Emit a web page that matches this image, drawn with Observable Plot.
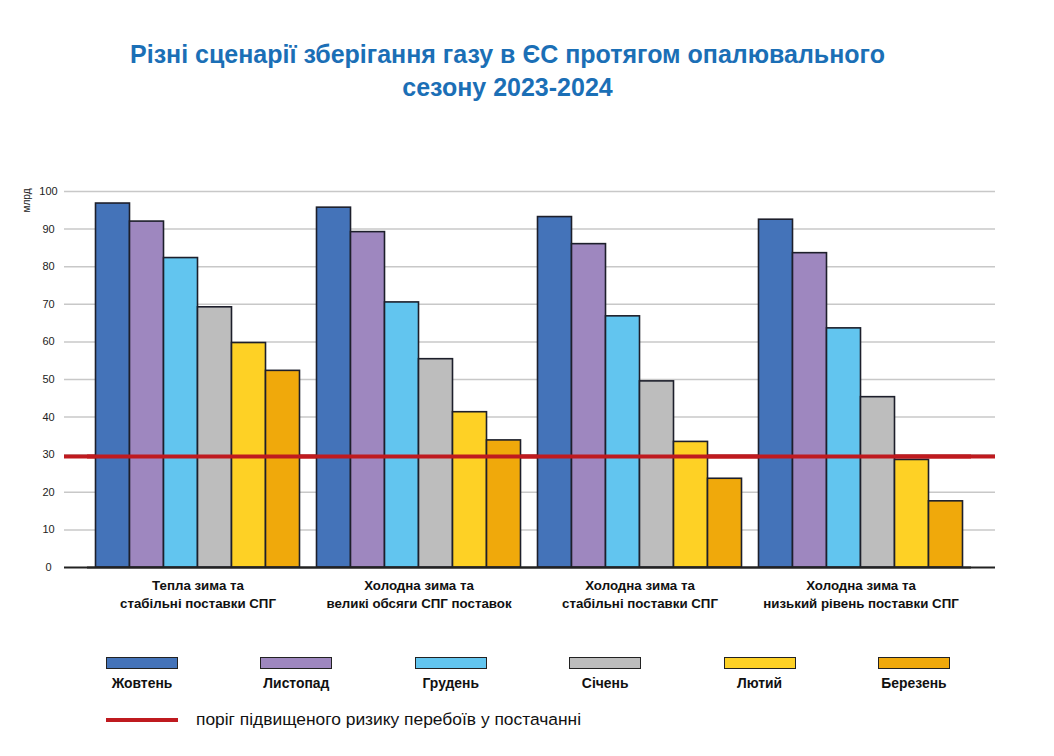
<!DOCTYPE html>
<html>
<head>
<meta charset="utf-8">
<script src="https://cdn.jsdelivr.net/npm/d3@7"></script>
<script src="https://cdn.jsdelivr.net/npm/@observablehq/plot@0.6"></script>
<style>
  html, body { margin: 0; padding: 0; background: #fff; }
  body { width: 1054px; height: 756px; position: relative; overflow: hidden; font-family: "Liberation Sans", Arial, sans-serif; }
  #title { position: absolute; left: 0; width: 1015px; top: 38px; text-align: center; color: #1b6fb6; font-weight: bold; font-size: 25px; line-height: 33px; }
  #chart { position: absolute; left: 0; top: 150px; width: 1054px; height: 480px; }
  #chart > svg { position: absolute; left: 0; top: 0; }
  #legend { position: absolute; left: 64.8px; top: 657px; display: flex; }
  .item { width: 154.4px; display: flex; flex-direction: column; align-items: center; }
  .sw { width: 70px; height: 10px; border: 1px solid #222; }
  .lab { margin-top: 6px; font-weight: bold; font-size: 13.9px; color: #111; }
  #thr { position: absolute; left: 106px; top: 709px; display: flex; align-items: center; }
  #thr .line { width: 72px; height: 4px; background: #bf1a1f; }
  #thr .txt { margin-left: 18px; font-size: 17.4px; color: #111; }
</style>
</head>
<body>
<div id="title">Різні сценарії зберігання газу в ЄС протягом опалювального<br>сезону 2023-2024</div>
<div id="chart"></div>
<div id="legend"></div>
<div id="thr"><div class="line"></div><div class="txt">поріг підвищеного ризику перебоїв у постачанні</div></div>
<script>
// ---- data ----
const scenarios = [
  "Тепла зима та\nстабільні поставки СПГ",
  "Холодна зима та\nвеликі обсяги СПГ поставок",
  "Холодна зима та\nстабільні поставки СПГ",
  "Холодна зима та\nнизький рівень поставки СПГ"
];
const months = ["Жовтень", "Листопад", "Грудень", "Січень", "Лютий", "Березень"];
const monthColors = ["#4473b9", "#9e87bf", "#62c5ef", "#bdbdbd", "#fed125", "#f0a90b"];
const warmStable   = [96.8, 92.0, 82.3, 69.2, 59.7, 52.3];
const coldHighLng  = [95.7, 89.2, 70.5, 55.4, 41.3, 33.8];
const coldStable   = [93.2, 86.0, 66.8, 49.5, 33.4, 23.6];
const coldLowLng   = [92.5, 83.6, 63.6, 45.3, 28.6, 17.6];
const seriesByScenario = [warmStable, coldHighLng, coldStable, coldLowLng];
const yTicks = [0, 10, 20, 30, 40, 50, 60, 70, 80, 90, 100];
const threshold = 29.5;
const yUnit = "млрд";

const rows = [];
scenarios.forEach((s, i) => months.forEach((m, j) => rows.push({scenario: s, month: m, value: seriesByScenario[i][j]})));

const H = 480, MT = 41, MB = 63;

// background: y axis, gridlines, baseline, threshold (full width)
const bg = Plot.plot({
  width: 1054, height: H,
  marginTop: MT, marginBottom: MB, marginLeft: 64, marginRight: 59,
  style: {fontFamily: "Liberation Sans, Arial, sans-serif", fontSize: "11px", color: "#222", background: "transparent"},
  y: {domain: [0, 100], ticks: yTicks, tickSize: 0, tickPadding: 16, label: null},
  x: {domain: [0, 1], axis: null},
  marks: [
    Plot.axisY({ticks: yTicks, tickSize: 0, tickPadding: 16, textAnchor: "middle", fontSize: 11, label: null}),
    Plot.ruleY(yTicks.filter(d => d > 0), {stroke: "#c8c8c8", strokeWidth: 1.5}),
    Plot.ruleY([0], {stroke: "#222", strokeWidth: 2}),
    Plot.ruleY([threshold], {stroke: "#bf1a1f", strokeWidth: 4}),
    Plot.text([yUnit], {frameAnchor: "top-left", rotate: -90, dx: -42, dy: -3, textAnchor: "end", fontSize: 10, fill: "#222"})
  ]
});

// foreground: grouped bars and threshold line over bars
const fg = Plot.plot({
  width: 1054, height: H,
  marginTop: MT, marginBottom: MB, marginLeft: 86.5, marginRight: 81.9,
  style: {fontFamily: "Liberation Sans, Arial, sans-serif", background: "transparent"},
  y: {domain: [0, 100], axis: null},
  x: {domain: months, axis: null, paddingInner: 0, paddingOuter: 0.25},
  fx: {domain: scenarios, axis: null, paddingInner: 0, paddingOuter: 0, label: null},
  color: {domain: months, range: monthColors},
  marks: [
    Plot.barY(rows, {fx: "scenario", x: "month", y: "value", fill: "month", stroke: "#1d1f2b", strokeWidth: 1.6, inset: 0}),
    Plot.ruleY([threshold], {stroke: "#bf1a1f", strokeWidth: 4}),
    Plot.ruleY([0], {stroke: "#222", strokeWidth: 2}),
    Plot.text(scenarios, {fx: d => d, text: d => d, frameAnchor: "bottom", lineAnchor: "top", dy: 10, lineHeight: 1.36, fontWeight: "bold", fontSize: 13.3, fill: "#111"})
  ]
});

const chart = document.getElementById("chart");
chart.appendChild(bg);
chart.appendChild(fg);

const legend = document.getElementById("legend");
months.forEach((m, i) => {
  const it = document.createElement("div");
  it.className = "item";
  const sw = document.createElement("div");
  sw.className = "sw";
  sw.style.background = monthColors[i];
  const lab = document.createElement("div");
  lab.className = "lab";
  lab.textContent = m;
  it.appendChild(sw); it.appendChild(lab);
  legend.appendChild(it);
});
</script>
</body>
</html>
